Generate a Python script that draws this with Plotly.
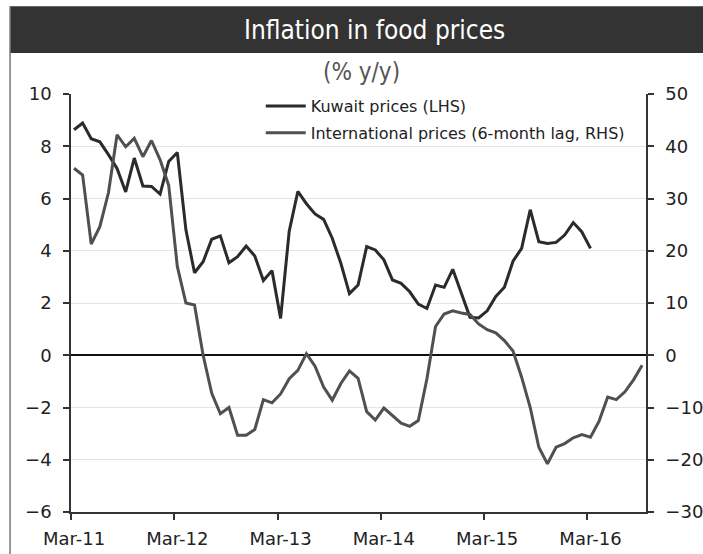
import numpy as np
import plotly.graph_objects as go

tick_labels = ["Mar-11", "Mar-12", "Mar-13", "Mar-14", "Mar-15", "Mar-16"]

kuwait = [8.63, 8.89, 8.29, 8.17, 7.68, 7.15, 6.25, 7.55, 6.48, 6.46, 6.17, 7.42,
          7.76, 4.80, 3.16, 3.58, 4.44, 4.57, 3.54, 3.77, 4.18, 3.80, 2.86, 3.24,
          1.41, 4.75, 6.27, 5.80, 5.41, 5.20, 4.48, 3.52, 2.36, 2.69, 4.16, 4.03,
          3.65, 2.88, 2.75, 2.43, 1.96, 1.79, 2.69, 2.60, 3.29, 2.40, 1.45, 1.43,
          1.70, 2.25, 2.60, 3.60, 4.09, 5.57, 4.35, 4.28, 4.32, 4.60, 5.08, 4.72,
          4.09]

international = [35.8, 34.5, 21.3, 24.6, 31.1, 42.2, 39.9, 41.5, 38.0, 41.1, 37.4, 32.5,
                 17.0, 10.0, 9.6, 0.0, -7.3, -11.2, -10.0, -15.3, -15.3, -14.2, -8.5, -9.1,
                 -7.4, -4.5, -2.9, 0.3, -2.1, -6.1, -8.6, -5.4, -3.0, -4.4, -10.8, -12.4,
                 -10.1, -11.6, -13.0, -13.6, -12.5, -4.5, 5.5, 7.9, 8.5, 8.1, 7.8, 6.0,
                 4.9, 4.3, 2.8, 0.8, -4.2, -10.0, -17.6, -20.8, -17.6, -16.9, -15.8, -15.2,
                 -15.7, -12.6, -8.0, -8.5, -7.0, -4.7, -1.9]

x_k = np.arange(len(kuwait))
x_i = np.arange(len(international))
major = np.arange(0, 12 * len(tick_labels), 12)

fig = go.Figure()
fig.add_trace(go.Scatter(x=x_k, y=kuwait, mode="lines", name="Kuwait prices (LHS)",
                         line=dict(color="#2b2b2b", width=3), legendgroup="a"))
fig.add_trace(go.Scatter(x=x_i, y=international, mode="lines", yaxis="y2",
                         name="International prices (6-month lag, RHS)",
                         line=dict(color="#505050", width=3), legendgroup="b"))

tickfont = dict(family="DejaVu Sans, Verdana, sans-serif", size=18, color="#222")

fig.update_layout(
    width=703, height=554, autosize=False,
    margin=dict(l=71, r=57, t=94, b=42),
    paper_bgcolor="white", plot_bgcolor="white",
    showlegend=True,
    legend=dict(x=0.33, y=1.012, xanchor="left", yanchor="top", itemwidth=40,
                bgcolor="rgba(0,0,0,0)", traceorder="grouped", tracegroupgap=3,
                font=dict(family="DejaVu Sans, Verdana, sans-serif", size=16, color="#222")),
    xaxis=dict(range=[-0.35, 66.45], tickvals=major, ticktext=tick_labels,
               ticks="", showgrid=False, zeroline=False, automargin=False,
               showline=True, linecolor="#333", linewidth=1.5,
               tickfont=tickfont, ticklabelstandoff=10,
               minor=dict(tickvals=major - 0.35, ticks="outside", ticklen=6,
                          tickcolor="#333", tickwidth=1.5, showgrid=False)),
    yaxis=dict(range=[-6, 10], dtick=2, showgrid=True, gridcolor="#e4e4e4", gridwidth=1,
               zeroline=True, zerolinecolor="#111", zerolinewidth=1.5, automargin=False,
               showline=True, linecolor="#333", linewidth=1.5,
               ticks="outside", ticklen=6, tickcolor="#333", tickwidth=1.5,
               tickfont=tickfont, ticklabelstandoff=8),
    yaxis2=dict(range=[-30, 50], dtick=10, overlaying="y", side="right",
                showgrid=False, zeroline=False, automargin=False,
                showline=True, linecolor="#333", linewidth=1.5,
                ticks="outside", ticklen=6, tickcolor="#333", tickwidth=1.5,
                tickfont=tickfont, ticklabelstandoff=8),
)

# title bar and frame
fig.add_shape(type="rect", xref="paper", yref="paper", x0=-0.106, x1=1.2, y0=1.098, y1=1.21,
              fillcolor="#333333", line=dict(width=0), layer="below")
fig.add_shape(type="line", xref="paper", yref="paper", x0=-0.106, x1=-0.106, y0=-0.2, y1=1.21,
              line=dict(color="#777", width=1.5))

titlefont = "DejaVu Sans Condensed, Liberation Sans Narrow, Arial Narrow, sans-serif"
fig.add_annotation(xref="paper", yref="paper", x=0.527, y=1.153, showarrow=False,
                   text="Inflation in food prices", xanchor="center", yanchor="middle",
                   font=dict(family=titlefont, size=26, color="white"))
fig.add_annotation(xref="paper", yref="paper", x=0.506, y=1.053, showarrow=False,
                   text="(% y/y)", xanchor="center", yanchor="middle",
                   font=dict(family=titlefont, size=24, color="#555"))

fig.write_html("out.html", config={"displayModeBar": False},
               post_script="document.body.style.margin='0';")
